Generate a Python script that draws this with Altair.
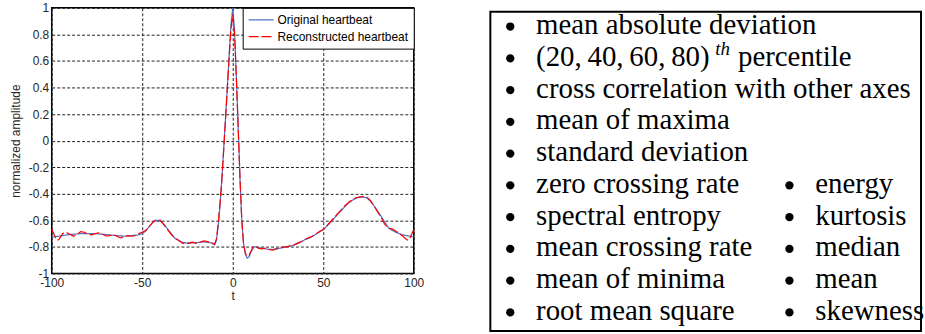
import altair as alt
import pandas as pd

# ---------------- data: heartbeat curves ----------------
t_orig = [-100, -96, -92, -88, -84, -80, -76, -72, -68, -64, -60, -56, -52, -50, -48, -46, -44, -42,
          -40, -38, -36, -34, -32, -30, -28, -26, -24, -22, -20, -18, -16, -14, -12, -10, -9, -8,
          -7, -6, -5, -4, -3, -2, -1, 0, 1, 2, 3, 4, 5, 6, 7, 8, 9, 10, 11, 12, 13, 14, 16, 18,
          20, 22, 24, 26, 28, 30, 32, 34, 36, 38, 40, 42, 44, 46, 48, 50, 52, 54, 56, 58, 60, 62,
          64, 66, 68, 70, 72, 74, 76, 78, 80, 82, 84, 86, 88, 90, 92, 94, 96, 98, 100]
y_orig = [-0.725, -0.72, -0.71, -0.705, -0.70, -0.70, -0.70, -0.705, -0.71, -0.715, -0.72, -0.715,
          -0.71, -0.70, -0.68, -0.645, -0.615, -0.60, -0.605, -0.63, -0.665, -0.70, -0.735, -0.75,
          -0.765, -0.77, -0.772, -0.77, -0.768, -0.765, -0.762, -0.765, -0.77, -0.785, -0.75,
          -0.64, -0.48, -0.29, -0.06, 0.17, 0.40, 0.64, 0.87, 1.0, 0.83, 0.48, 0.10, -0.28, -0.60,
          -0.78, -0.855, -0.885, -0.875, -0.84, -0.815, -0.80, -0.80, -0.805, -0.81, -0.815,
          -0.818, -0.82, -0.815, -0.81, -0.805, -0.80, -0.795, -0.785, -0.775, -0.76, -0.745,
          -0.735, -0.72, -0.705, -0.685, -0.67, -0.645, -0.615, -0.585, -0.555, -0.525, -0.495,
          -0.47, -0.45, -0.435, -0.425, -0.425, -0.43, -0.455, -0.49, -0.53, -0.57, -0.615,
          -0.655, -0.675, -0.69, -0.70, -0.71, -0.715, -0.72, -0.725]

t_rec = [-100, -98, -97, -96, -94, -92, -90, -88, -86, -84, -82, -80, -78, -76, -74, -72, -70, -68,
         -66, -64, -62, -60, -58, -56, -54, -52, -50, -48, -46, -44, -42, -40, -38, -36, -34, -32,
         -30, -28, -26, -24, -22, -20, -18, -16, -14, -12, -10, -9, -8, -7, -6, -5, -4, -3, -2,
         -1, 0, 1, 2, 3, 4, 5, 6, 7, 8, 9, 10, 11, 12, 13, 14, 16, 18, 20, 22, 24, 26, 28, 30, 32,
         34, 36, 38, 40, 42, 44, 46, 48, 50, 52, 54, 56, 58, 60, 62, 64, 66, 68, 70, 72, 74, 76,
         78, 80, 82, 84, 86, 88, 90, 92, 94, 96, 97, 98, 100]
y_rec = [-0.665, -0.73, -0.75, -0.745, -0.70, -0.69, -0.705, -0.72, -0.705, -0.685, -0.69, -0.705,
         -0.71, -0.70, -0.695, -0.705, -0.718, -0.715, -0.705, -0.72, -0.733, -0.725, -0.715,
         -0.72, -0.715, -0.70, -0.69, -0.675, -0.645, -0.61, -0.595, -0.60, -0.635, -0.67, -0.705,
         -0.735, -0.75, -0.77, -0.78, -0.77, -0.765, -0.775, -0.765, -0.755, -0.76, -0.765, -0.78,
         -0.74, -0.62, -0.47, -0.29, -0.07, 0.16, 0.39, 0.62, 0.84, 0.95, 0.80, 0.47, 0.10, -0.28,
         -0.60, -0.78, -0.85, -0.87, -0.865, -0.835, -0.805, -0.795, -0.80, -0.81, -0.815, -0.81,
         -0.82, -0.825, -0.815, -0.81, -0.80, -0.80, -0.79, -0.785, -0.77, -0.76, -0.745, -0.73,
         -0.72, -0.70, -0.685, -0.67, -0.64, -0.61, -0.58, -0.55, -0.52, -0.49, -0.465, -0.445,
         -0.43, -0.425, -0.42, -0.425, -0.45, -0.49, -0.535, -0.58, -0.63, -0.66, -0.665, -0.68,
         -0.70, -0.72, -0.745, -0.75, -0.73, -0.67]

series_names = ["Original heartbeat", "Reconstructed heartbeat"]
series_colors = ["#4a72c8", "#ff0000"]
x_ticks = [-100, -50, 0, 50, 100]
y_ticks = [-1, -0.8, -0.6, -0.4, -0.2, 0, 0.2, 0.4, 0.6, 0.8, 1]

# ---------------- data: feature list ----------------
left_items = ["mean absolute deviation", "(20,\u200940,\u200960,\u200980)",
              "cross correlation with other axes", "mean of maxima", "standard deviation",
              "zero crossing rate", "spectral entropy", "mean crossing rate", "mean of minima",
              "root mean square"]
right_items = ["energy", "kurtosis", "median", "mean", "skewness"]
right_start_row = 5
sup_row = 1
sup_text = "th"
sup_tail = "percentile"

# ---------------- build tables ----------------
curves = pd.concat([
    pd.DataFrame({"t": t_orig, "amp": y_orig, "series": series_names[0], "k": 0}),
    pd.DataFrame({"t": t_rec, "amp": y_rec, "series": series_names[1], "k": 1}),
], ignore_index=True)

items = pd.DataFrame(
    [{"col": 0, "row": i, "label": s} for i, s in enumerate(left_items)]
    + [{"col": 1, "row": right_start_row + i, "label": s} for i, s in enumerate(right_items)]
)
sup_df = pd.DataFrame([{"col": 0, "row": sup_row, "sup": sup_text, "tail": sup_tail}])

SANS = "Liberation Sans"
SERIF = "Liberation Serif"

legend = alt.Legend(
    title=None, orient="top-right", offset=0, fillColor="white", strokeColor="black",
    padding=5, symbolType="stroke", symbolSize=625, symbolStrokeWidth=1.3, clipHeight=14,
    rowPadding=3, labelFont=SANS, labelFontSize=12, labelColor="black", labelOffset=3,
    labelLimit=0,
)

num_expr = "replace(format(datum.value, '~g'), '\u2212', '-')"

lines = alt.Chart(curves).mark_line(strokeWidth=1.2).encode(
    x=alt.X("t:Q", scale=alt.Scale(domain=[-100, 100], nice=False, zero=False),
            axis=alt.Axis(values=x_ticks, title="t", labelExpr=num_expr, labelPadding=4,
                          titlePadding=2)),
    y=alt.Y("amp:Q", scale=alt.Scale(domain=[-1, 1], nice=False),
            axis=alt.Axis(values=y_ticks, title="normalized amplitude", labelExpr=num_expr,
                          labelPadding=3, titlePadding=6)),
    color=alt.Color("series:N", scale=alt.Scale(domain=series_names, range=series_colors),
                    legend=legend),
    strokeDash=alt.StrokeDash("series:N",
                              scale=alt.Scale(domain=series_names, range=[[1, 0], [10, 3]]),
                              legend=legend),
    order=alt.Order("k:Q"),
).properties(width=364, height=267)

# ---------------- feature list panel ----------------
XS = alt.Scale(domain=[-0.0784, 1.4749], nice=False, zero=False)
YS = alt.Scale(domain=[-0.824, 9.355], nice=False, zero=False, reverse=True)
xenc = alt.X("col:Q", scale=XS, axis=None)
yenc = alt.Y("row:Q", scale=YS, axis=None)

base = alt.Chart(items)
bullets = base.mark_point(filled=True, shape="circle", size=70, color="black", opacity=1,
                          yOffset=-7.5).encode(x=xenc, y=yenc)
texts = base.mark_text(align="left", baseline="alphabetic", dx=26, font=SERIF, fontSize=29,
                       color="black").encode(x=xenc, y=yenc, text="label:N")
sups = alt.Chart(sup_df).mark_text(align="left", baseline="alphabetic", dx=26 + 180, dy=-11,
                                   font=SERIF, fontSize=19, fontStyle="italic",
                                   color="black").encode(x=xenc, y=yenc, text="sup:N")
tails = alt.Chart(sup_df).mark_text(align="left", baseline="alphabetic", dx=26 + 203,
                                    font=SERIF, fontSize=29, color="black").encode(
    x=xenc, y=yenc, text="tail:N")
frame = alt.Chart(sup_df).mark_rect(fillOpacity=0, stroke="black", strokeWidth=2).encode(
    x=alt.value(2), x2=alt.value(435), y=alt.value(4), y2=alt.value(325))

panel = alt.layer(frame, bullets, texts, sups, tails).properties(
    width=436, height=325, view=alt.ViewBackground(stroke=None))

chart = alt.hconcat(lines, panel, spacing=64).resolve_legend(
    color="independent", strokeDash="independent"
).resolve_scale(color="independent", strokeDash="independent").properties(
    padding={"left": 8, "top": 0, "right": 0, "bottom": 0}
).configure_view(stroke="black", strokeWidth=1.5).configure_axis(
    labelFont=SANS, labelFontSize=12, labelColor="#262626", titleFont=SANS, titleFontSize=12,
    titleFontWeight="normal", titleColor="#262626", grid=True, gridColor="#222",
    gridDash=[3, 2], gridWidth=1, ticks=False, domain=False, labelFlush=False,
    labelOverlap=False,
)

chart.save("out.html", embed_options={"renderer": "svg", "actions": False})
